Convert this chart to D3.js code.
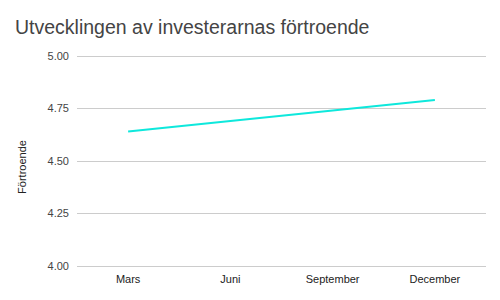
<!DOCTYPE html>
<html>
<head>
<meta charset="utf-8">
<script src="https://cdn.jsdelivr.net/npm/d3@7"></script>
<style>
  body { margin: 0; background: #fff; }
  text { font-family: Arial, "Liberation Sans", sans-serif; }
</style>
</head>
<body>
<div class="chart"></div>
<script>
var width = 500;
var height = 300;

var months = ['Mars', 'Juni', 'September', 'December'];
var confidence = [4.64, 4.69, 4.74, 4.79];
var yTicks = [4.00, 4.25, 4.50, 4.75, 5.00];

var margin = {top: 56, right: 14, bottom: 34, left: 77};

var svg = d3.select('.chart')
	.append('svg')
	.attr('width', width)
	.attr('height', height);

var x = d3.scalePoint()
	.domain(months)
	.range([margin.left, width - margin.right])
	.padding(0.5);

var y = d3.scaleLinear()
	.domain([4, 5])
	.range([height - margin.bottom, margin.top]);

// gridlines
svg.append('g')
	.selectAll('line')
	.data(yTicks)
	.enter().append('line')
	.attr('x1', margin.left)
	.attr('x2', width - margin.right)
	.attr('y1', function(d){ return y(d) })
	.attr('y2', function(d){ return y(d) })
	.attr('stroke', '#cccccc')
	.attr('stroke-width', 1)
	.attr('shape-rendering', 'crispEdges');

// y tick labels
svg.append('g')
	.selectAll('text')
	.data(yTicks)
	.enter().append('text')
	.attr('x', margin.left - 8)
	.attr('y', function(d){ return y(d) })
	.attr('dy', '0.35em')
	.attr('text-anchor', 'end')
	.attr('font-size', '11px')
	.attr('fill', '#444')
	.text(function(d){ return d3.format('.2f')(d) });

// x labels
svg.append('g')
	.selectAll('text')
	.data(months)
	.enter().append('text')
	.attr('x', function(d){ return x(d) })
	.attr('y', height - margin.bottom + 17)
	.attr('text-anchor', 'middle')
	.attr('font-size', '11px')
	.attr('fill', '#222')
	.text(function(d){ return d });

// line
var line = d3.line()
	.x(function(d, i){ return x(months[i]) })
	.y(function(d){ return y(d) });

svg.append('path')
	.datum(confidence)
	.attr('d', line)
	.attr('fill', 'none')
	.attr('stroke', '#0ee8dc')
	.attr('stroke-width', 2);

// title
svg.append('text')
	.attr('x', 15)
	.attr('y', 34)
	.attr('font-size', '19.5px')
	.attr('fill', '#444')
	.text('Utvecklingen av investerarnas förtroende');

// y axis label
svg.append('text')
	.attr('transform', 'translate(26,' + 167 + ') rotate(-90)')
	.attr('text-anchor', 'middle')
	.attr('font-size', '11px')
	.attr('fill', '#222')
	.text('Förtroende');
</script>
</body>
</html>
